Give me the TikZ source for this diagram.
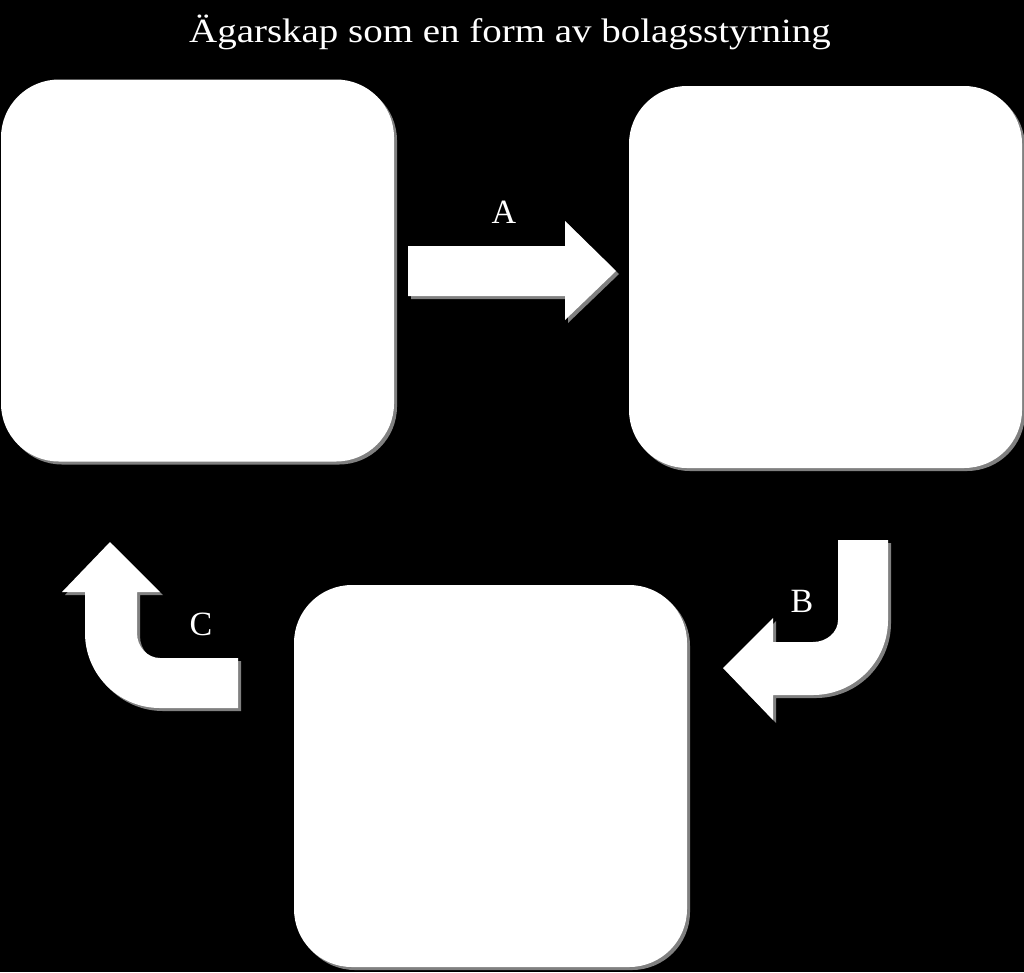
\documentclass[tikz,border=0pt]{standalone}
\usepackage{fontspec}
\setmainfont{Liberation Serif}
\usetikzlibrary{shadows}
\definecolor{shadowgray}{RGB}{128,128,128}
\begin{document}
\begin{tikzpicture}[x=1pt,y=-1pt,
  box/.style={fill=white, rounded corners=58pt, minimum width=393pt, minimum height=382pt,
    inner sep=0pt, draw=none,
    drop shadow={shadow xshift=3pt, shadow yshift=-3pt, fill=shadowgray, opacity=1}},
  lbl/.style={text=white, font=\fontsize{34}{40}\selectfont, inner sep=0pt},
  titlestyle/.style={text=white, font=\fontsize{34}{40}\selectfont, inner sep=0pt, anchor=base},
]
\fill[black] (0,0) rectangle (1024,972);
\useasboundingbox (0,0) rectangle (1024,972);

\node[titlestyle] (title) at (510,42) {\scalebox{1.146}[1]{Ägarskap som en form av bolagsstyrning}};

\node[box] (box1) at (197.5,270.5) {};
\node[box] (box2) at (825.5,277) {};
\node[box] (box3) at (490.5,776) {};

\foreach \dx/\dy/\col in {3/-3/shadowgray, 0/0/white} {
  % arrow A
  \fill[\col, xshift=\dx pt, yshift=\dy pt]
    (408,246) -- (565,246) -- (565,221) -- (616,271) -- (565,320) -- (565,296) -- (408,296) -- cycle;
  % arrow B
  \fill[\col, xshift=\dx pt, yshift=\dy pt]
    (838,540) -- (888,540) -- (888,620) arc[start angle=0, end angle=90, radius=75]
    -- (773,695) -- (773,720) -- (723,668) -- (773,618) -- (773,642) -- (813,642)
    arc[start angle=90, end angle=0, x radius=25, y radius=22] -- cycle;
  % arrow C
  \fill[\col, xshift=\dx pt, yshift=\dy pt]
    (238,658) -- (238,708) -- (160,708) arc[start angle=90, end angle=180, radius=75]
    -- (85,592) -- (62,592) -- (110,542) -- (160,592) -- (137,592) -- (137,633)
    arc[start angle=180, end angle=90, x radius=23, y radius=25] -- cycle;
}

\node[lbl] (lblA) at (504,212) {A};
\node[lbl] (lblB) at (802,601) {B};
\node[lbl] (lblC) at (201,624) {C};
\end{tikzpicture}
\end{document}
